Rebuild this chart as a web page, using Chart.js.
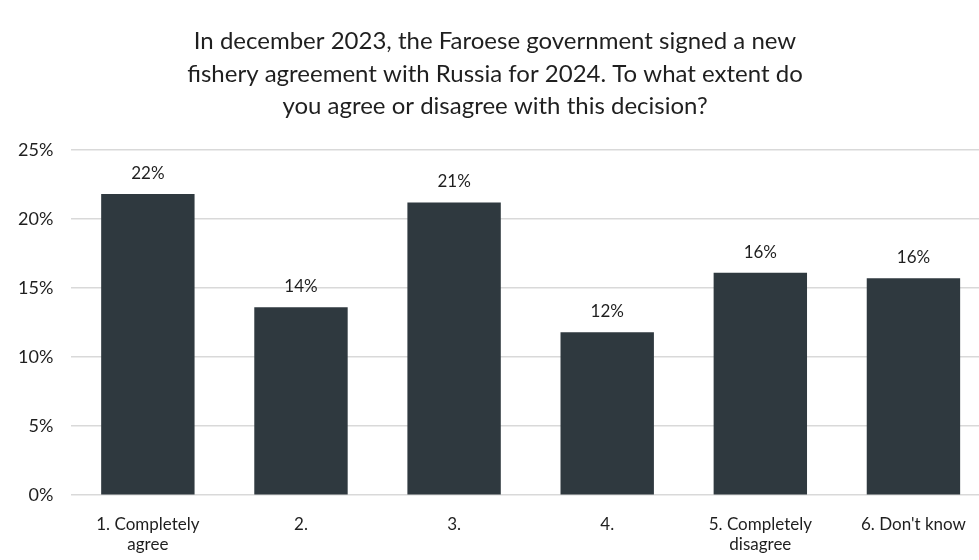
<!DOCTYPE html>
<html>
<head>
<meta charset="utf-8">
<script src="https://cdn.jsdelivr.net/npm/chart.js@4.4.1/dist/chart.umd.min.js"></script>
<style>
    html, body { margin: 0; padding: 0; background: #fff; overflow: hidden; }
    #wrap { position: relative; width: 990px; height: 574px; }
</style>
</head>
<body>
<div id="wrap"><canvas id="surveyChart"></canvas></div>
<script>
const answers = [["1. Completely", "agree"], "2.", "3.", "4.", ["5. Completely", "disagree"], "6. Don't know"];
const shares = [21.8, 13.6, 21.2, 11.8, 16.1, 15.7];
const yTicks = [0, 5, 10, 15, 20, 25];
const titleLines = [
    "In december 2023, the Faroese government signed a new",
    "fishery agreement with Russia for 2024. To what extent do",
    "you agree or disagree with this decision?"
];

const fontFamily = "Lato, 'Open Sans', sans-serif";
const textColor = "#1f1f1f";

// percent labels above each bar
const barValueLabels = {
    id: "barValueLabels",
    afterDatasetsDraw(chart) {
        const ctx = chart.ctx;
        const meta = chart.getDatasetMeta(0);
        ctx.save();
        ctx.font = "17px " + fontFamily;
        ctx.fillStyle = textColor;
        ctx.textAlign = "center";
        ctx.textBaseline = "bottom";
        meta.data.forEach((bar, i) => {
            ctx.fillText(Math.round(shares[i]) + "%", bar.x, bar.y - 12);
        });
        ctx.restore();
    }
};

const ctx = document.getElementById("surveyChart").getContext("2d");
new Chart(ctx, {
    type: "bar",
    data: {
        labels: answers,
        datasets: [{
            data: shares,
            backgroundColor: "#2f393f",
            borderWidth: 0,
            barPercentage: 0.61,
            categoryPercentage: 1
        }]
    },
    options: {
        responsive: true,
        maintainAspectRatio: false,
        animation: false,
        layout: { padding: { left: 0, right: 0, top: 25, bottom: 0 } },
        plugins: {
            legend: { display: false },
            tooltip: { enabled: false },
            title: {
                display: true,
                text: titleLines,
                color: textColor,
                font: { family: fontFamily, size: 24, weight: "normal", lineHeight: 1.36 },
                padding: { top: 0, bottom: 27 }
            }
        },
        scales: {
            x: {
                grid: { display: false, drawTicks: false },
                border: { display: false },
                ticks: {
                    color: textColor,
                    font: { family: fontFamily, size: 17, lineHeight: 1.2 },
                    padding: 19,
                    maxRotation: 0,
                    autoSkip: false
                }
            },
            y: {
                min: 0,
                max: 25,
                afterBuildTicks: axis => { axis.ticks = yTicks.map(v => ({ value: v })); },
                grid: { color: "#d9d9d9", lineWidth: 1.5, drawTicks: false },
                border: { display: false },
                ticks: {
                    color: textColor,
                    font: { family: fontFamily, size: 18 },
                    padding: 18,
                    callback: v => v + "%"
                }
            }
        }
    },
    plugins: [barValueLabels]
});
</script>
</body>
</html>
